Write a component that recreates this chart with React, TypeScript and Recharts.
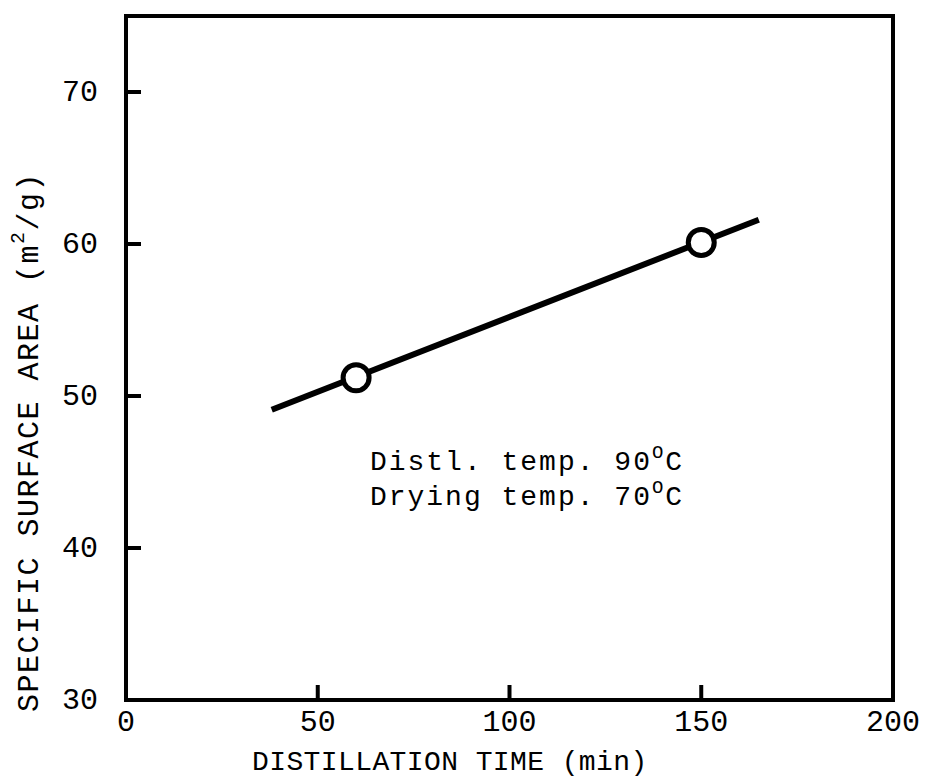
import { ScatterChart, Scatter, XAxis, YAxis, ReferenceArea, ReferenceDot, Label } from "recharts";

// axis ticks
const xTicks = [0, 50, 100, 150, 200];
const yTicks = [30, 40, 50, 60, 70];

// fitted line (end points)
const fitTime = [38, 165];
const fitArea = [49.1, 61.6];

// measured points
const distTime = [60, 150];
const surfaceArea = [51.2, 60.1];

const noteLines = ["Distl. temp. 90", "Drying temp. 70"];

const FONT = '"Liberation Mono", "DejaVu Sans Mono", monospace';

const fitData = fitTime.map((t, i) => ({ x: t, y: fitArea[i] }));
const pointData = distTime.map((t, i) => ({ x: t, y: surfaceArea[i] }));

const OpenCircle = (props: any) => (
  <circle cx={props.cx} cy={props.cy} r={13} fill="#fff" stroke="#000" strokeWidth={5} />
);

const YTitle = (props: any) => {
  const vb = props.viewBox;
  const cx = vb.x + 30;
  const cy = 442;
  return (
    <text
      x={cx}
      y={cy}
      transform={`rotate(-90, ${cx}, ${cy})`}
      textAnchor="middle"
      dominantBaseline="central"
      fontFamily={FONT}
      fontSize={30}
      letterSpacing={1.5}
      fill="#000"
    >
      SPECIFIC SURFACE AREA (m
      <tspan dy={-12} fontSize={20}>2</tspan>
      <tspan dy={12}>/g)</tspan>
    </text>
  );
};

const XTitle = (props: any) => {
  const vb = props.viewBox;
  return (
    <text
      x={252}
      y={vb.y + 62}
      dominantBaseline="central"
      fontFamily={FONT}
      fontSize={28}
      letterSpacing={0.4}
      fill="#000"
    >
      DISTILLATION TIME (min)
    </text>
  );
};

const Note = (props: any) => (
  <text x={props.cx} y={props.cy} fontFamily={FONT} fontSize={28} letterSpacing={2} fill="#000">
    {noteLines.map((line, i) => (
      <tspan key={i} x={props.cx} y={props.cy + i * 35}>
        {line}
        <tspan dy={-12} fontSize={19}>O</tspan>
        <tspan dy={12}>C</tspan>
      </tspan>
    ))}
  </text>
);

export default function App() {
  return (
    <div style={{ position: "absolute", left: 0, top: 0, background: "#fff" }}>
      <ScatterChart width={932} height={783} margin={{ top: 16, right: 39, bottom: 0, left: 0 }}>
        <XAxis
          type="number"
          dataKey="x"
          domain={[0, 200]}
          ticks={xTicks}
          axisLine={false}
          tickSize={-15}
          tickMargin={25}
          tickLine={{ stroke: "#000", strokeWidth: 4 }}
          tick={{ fill: "#000", fontSize: 30, fontFamily: FONT }}
          height={83}
          label={<Label content={XTitle} />}
        />
        <YAxis
          type="number"
          dataKey="y"
          domain={[30, 75]}
          ticks={yTicks}
          axisLine={false}
          tickSize={-15}
          tickMargin={43}
          tickLine={{ stroke: "#000", strokeWidth: 4 }}
          tick={{ fill: "#000", fontSize: 30, fontFamily: FONT, dy: -2 }}
          width={126}
          label={<Label content={YTitle} />}
        />
        <ReferenceArea x1={0} x2={200} y1={30} y2={75} fill="none" stroke="#000" strokeWidth={4} />
        <Scatter
          data={fitData}
          line={{ stroke: "#000", strokeWidth: 6 }}
          shape={() => <g />}
          isAnimationActive={false}
        />
        <Scatter data={pointData} shape={OpenCircle} isAnimationActive={false} />
        <ReferenceDot x={63.6} y={45.1} r={0} shape={Note} />
      </ScatterChart>
    </div>
  );
}
